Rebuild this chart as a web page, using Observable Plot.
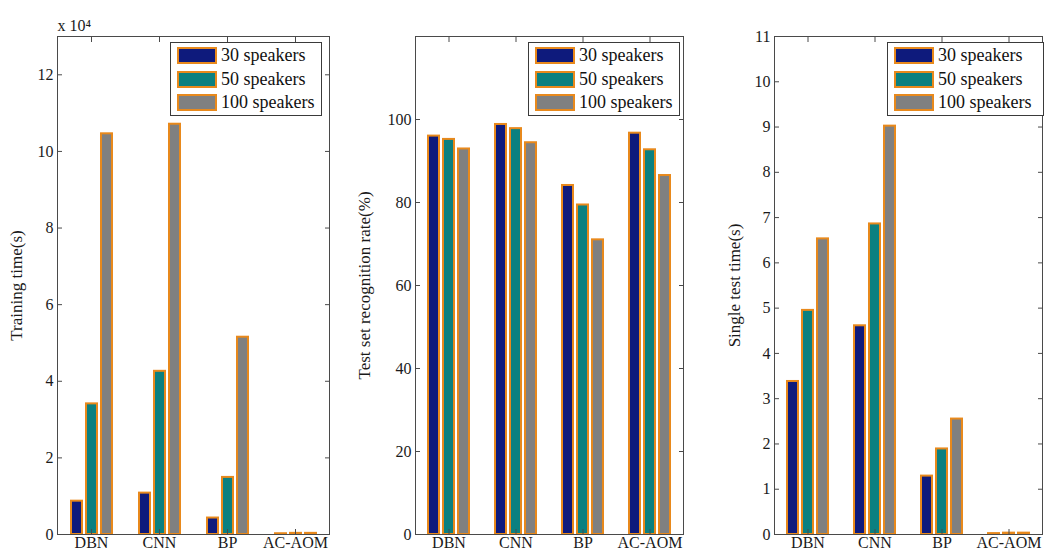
<!DOCTYPE html>
<html><head><meta charset="utf-8">
<script src="https://cdn.jsdelivr.net/npm/d3@7"></script>
<script src="https://cdn.jsdelivr.net/npm/@observablehq/plot@0.6"></script>
<style>
body{margin:0;background:#fff;}
#wrap{position:relative;width:1045px;height:553px;overflow:hidden;font-family:"Liberation Serif","Times New Roman",serif;}
.panel{position:absolute;top:0;}
.legend{position:absolute;top:42px;height:74px;border:1px solid #3a3a3a;background:#fff;box-sizing:border-box;font-family:"Liberation Serif","Times New Roman",serif;}
.row{position:absolute;left:6px;height:17px;display:flex;align-items:center;font-size:18px;color:#111;white-space:nowrap;}
.sw{width:36px;height:13px;border:2px solid #e8891c;margin-right:4px;flex:none;}
</style></head>
<body><div id="wrap"></div>
<script>
// ---- data ----
const categories = ["DBN", "CNN", "BP", "AC-AOM"];
const series = ["30 speakers", "50 speakers", "100 speakers"];
const seriesColors = ["#0e1a7c", "#0b8080", "#808080"];
const barEdge = "#e8891c";

// Training time (x 10^4 s)
const trainingTime30 = [0.87, 1.08, 0.43, 0.02];
const trainingTime50 = [3.41, 4.26, 1.49, 0.03];
const trainingTime100 = [10.46, 10.71, 5.15, 0.03];
const trainingTicks = [0, 2, 4, 6, 8, 10, 12];

// Test set recognition rate (%)
const recognition30 = [96.0, 98.8, 84.1, 96.7];
const recognition50 = [95.2, 97.8, 79.4, 92.7];
const recognition100 = [92.9, 94.4, 71.0, 86.5];
const recognitionTicks = [0, 20, 40, 60, 80, 100];

// Single test time (s)
const singleTest30 = [3.38, 4.61, 1.29, 0.02];
const singleTest50 = [4.95, 6.86, 1.89, 0.03];
const singleTest100 = [6.53, 9.02, 2.55, 0.03];
const singleTestTicks = [0, 1, 2, 3, 4, 5, 6, 7, 8, 9, 10, 11];

function table(a, b, c) {
  const rows = [];
  [a, b, c].forEach((vals, s) => vals.forEach((v, i) => rows.push({category: categories[i], series: series[s], value: v})));
  return rows;
}

const wrap = document.getElementById("wrap");

function panel({left, rows, yDomain, yTicks, yLabel, marginLeft, marginRight, labelOffset, legendLeft, legendWidth, extra = []}) {
  const chart = Plot.plot({
    width: 345, height: 553,
    marginTop: 36, marginBottom: 19, marginLeft, marginRight,
    style: {fontFamily: "Liberation Serif, Times New Roman, serif", fontSize: "16px", color: "#1a1a1a", background: "transparent", overflow: "visible"},
    fx: {domain: categories, padding: 0, label: null},
    x: {domain: series, paddingInner: 0.3, paddingOuter: 0.81, axis: null},
    y: {domain: yDomain, label: null},
    color: {domain: series, range: seriesColors},
    marks: [
      Plot.barY(rows, {fx: "category", x: "series", y: "value", fill: "series", stroke: barEdge, strokeWidth: 2}),
      Plot.frame({facet: "super", stroke: "#4a4a4a"}),
      Plot.axisY({anchor: "left", ticks: yTicks, tickSize: -5, tickPadding: 9, label: null, stroke: "#4a4a4a"}),
      Plot.axisY({anchor: "left", ticks: [], tickSize: 0, label: yLabel, labelAnchor: "center", labelArrow: "none", labelOffset, fontSize: 17}),
      Plot.axisY({anchor: "right", ticks: yTicks, tickSize: -5, tickFormat: () => "", label: null, stroke: "#4a4a4a"}),
      Plot.axisFx({anchor: "bottom", tickSize: -5, tickPadding: 7, label: null, stroke: "#4a4a4a", fontSize: 16}),
      Plot.axisFx({anchor: "top", tickSize: -5, tickFormat: () => "", label: null, stroke: "#4a4a4a"}),
      ...extra
    ]
  });
  chart.classList.add("panel");
  chart.style.left = left + "px";
  wrap.appendChild(chart);

  const lg = document.createElement("div");
  lg.className = "legend";
  lg.style.left = legendLeft + "px";
  lg.style.width = legendWidth + "px";
  series.forEach((s, i) => {
    const r = document.createElement("div");
    r.className = "row";
    r.style.top = (4 + i * 23.5) + "px";
    const sw = document.createElement("div");
    sw.className = "sw";
    sw.style.background = seriesColors[i];
    const t = document.createElement("span");
    t.textContent = s;
    r.appendChild(sw); r.appendChild(t);
    lg.appendChild(r);
  });
  wrap.appendChild(lg);
}

panel({
  left: 0, rows: table(trainingTime30, trainingTime50, trainingTime100),
  yDomain: [0, 13], yTicks: trainingTicks, yLabel: "Training time(s)",
  marginLeft: 56, marginRight: 16, labelOffset: 48, legendLeft: 170, legendWidth: 152,
  extra: [Plot.text(["x 10⁴"], {facet: "super", frameAnchor: "top-left", text: d => d, textAnchor: "start", lineAnchor: "middle", dy: -11, dx: 0, fontSize: 16})]
});
panel({
  left: 350, rows: table(recognition30, recognition50, recognition100),
  yDomain: [0, 120], yTicks: recognitionTicks, yLabel: "Test set recognition rate(%)",
  marginLeft: 64, marginRight: 11, labelOffset: 58, legendLeft: 528, legendWidth: 152
});
panel({
  left: 700, rows: table(singleTest30, singleTest50, singleTest100),
  yDomain: [0, 11], yTicks: singleTestTicks, yLabel: "Single test time(s)",
  marginLeft: 73, marginRight: 2, labelOffset: 47, legendLeft: 887, legendWidth: 157
});
</script>
</body></html>
